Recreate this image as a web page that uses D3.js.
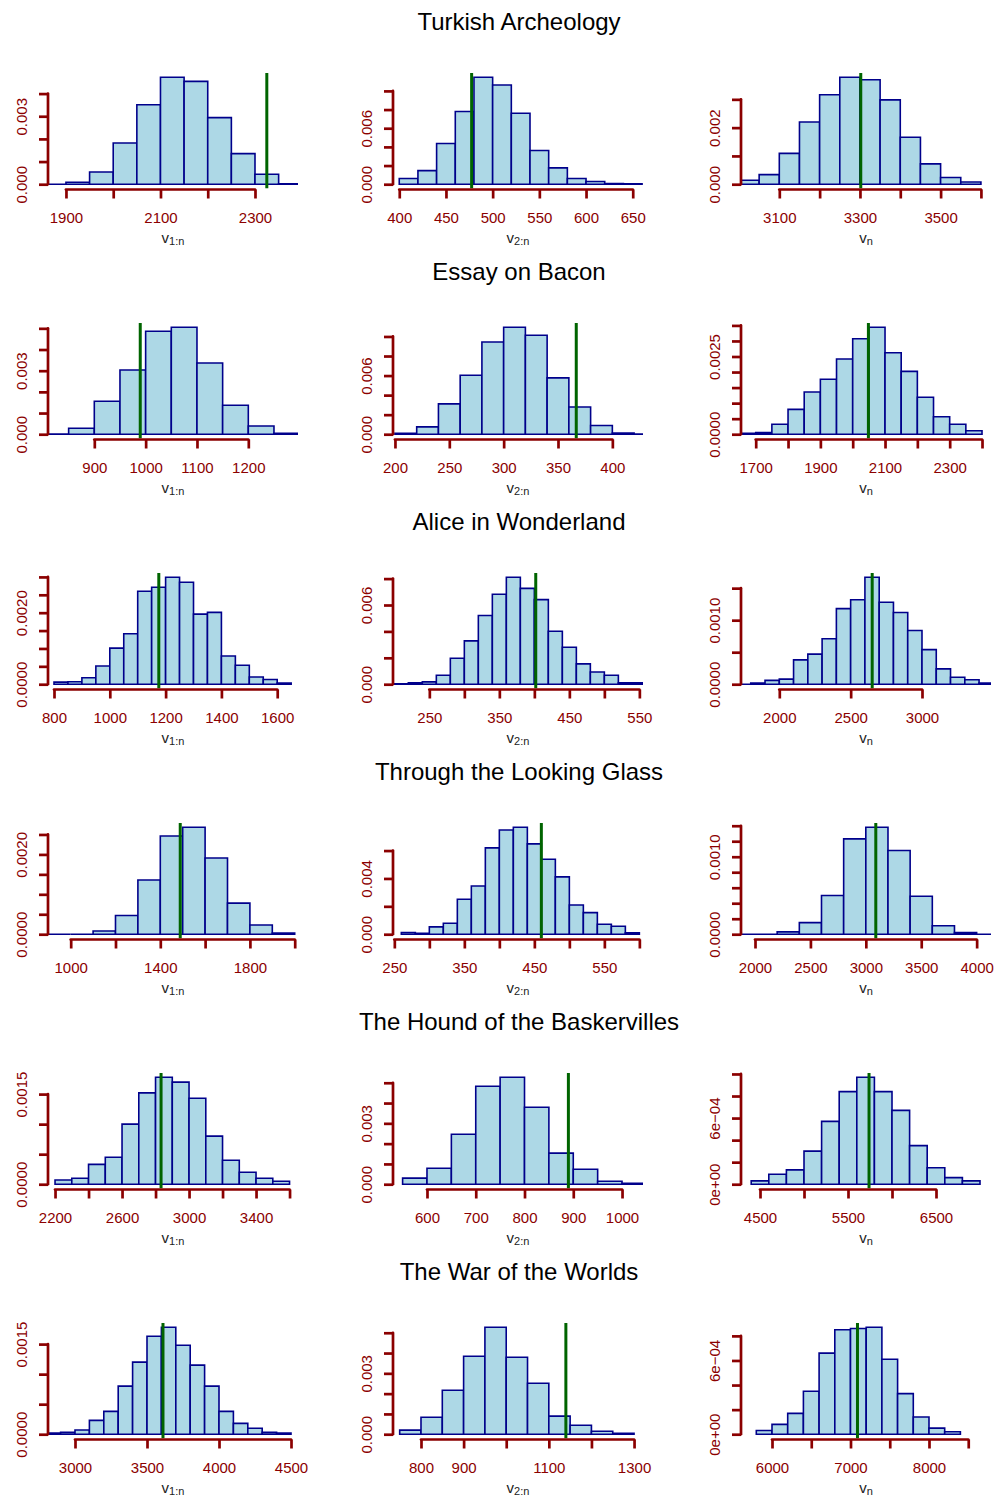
<!DOCTYPE html>
<html>
<head>
<meta charset="utf-8">
<script src="https://cdn.jsdelivr.net/npm/d3@7"></script>
<style>
  body { margin: 0; background: #fff; }
  svg { display: block; }
  text { font-family: "Liberation Sans", Arial, Helvetica, sans-serif; }
</style>
</head>
<body>
<svg id="chart" width="998" height="1497"></svg>
<script>
// Simulated distributions of the statistics v(1:n), v(2:n) and v(n) for six texts,
// shown as density histograms with the observed value marked by a vertical line.
const titles = [
  "Turkish Archeology", "Essay on Bacon", "Alice in Wonderland",
  "Through the Looking Glass", "The Hound of the Baskervilles", "The War of the Worlds"
];
const xlabSubs = ["1:n", "2:n", "n"];

// Histogram bins: first break and bin width for each panel (row by row)
const binStart = [1850, 400, 3000, 800, 200, 1650, 800, 200, 1700, 900, 260, 1800,
                  2200, 550, 4400, 2800, 750, 5800];
const binWidth = [50, 20, 50, 50, 20, 50, 50, 20, 100, 100, 20, 200,
                  100, 50, 200, 100, 50, 200];

// Density of each bin
const densities = [
  [0, 0.00009, 0.00054, 0.00182, 0.00351, 0.00472, 0.00454, 0.00294, 0.00135, 0.00044, 0.00002],
  [0.00061, 0.00146, 0.00436, 0.00779, 0.01146, 0.01064, 0.00761, 0.00361, 0.00175, 0.00061, 0.00029, 0.00007, 0.00005],
  [0.00014, 0.00034, 0.00109, 0.0022, 0.00316, 0.00378, 0.00369, 0.00298, 0.00166, 0.00072, 0.00024, 0.00008],
  [0.00001, 0.00028, 0.00156, 0.00303, 0.00486, 0.00505, 0.00336, 0.00137, 0.00039, 0.00004],
  [0.0001, 0.00075, 0.0031, 0.00603, 0.00944, 0.01094, 0.01012, 0.00576, 0.00279, 0.00089, 0.00012, 0.00002],
  [0.00003, 0.00005, 0.00032, 0.0008, 0.00136, 0.00177, 0.00242, 0.00307, 0.00344, 0.00262, 0.00202, 0.00119, 0.00056, 0.00032, 0.00011],
  [0.00006, 0.00007, 0.00018, 0.00051, 0.00101, 0.00141, 0.0026, 0.00271, 0.00299, 0.00285, 0.00196, 0.00201, 0.00079, 0.00053, 0.0002, 0.00013, 0.00003],
  [0.00003, 0.0001, 0.00018, 0.00068, 0.00197, 0.00328, 0.0052, 0.00681, 0.0081, 0.00726, 0.00641, 0.00401, 0.0028, 0.00154, 0.00093, 0.00068, 0.0001, 0.0001],
  [0, 0.00002, 0.00006, 0.00008, 0.00038, 0.00047, 0.00071, 0.00118, 0.00132, 0.00167, 0.00128, 0.00112, 0.00084, 0.00054, 0.00024, 0.00011, 0.00007, 0.00002],
  [0, 0, 0.00008, 0.00047, 0.00136, 0.00246, 0.00268, 0.00191, 0.00078, 0.00023, 0.00003],
  [0.00012, 0.00007, 0.00053, 0.00079, 0.00251, 0.00346, 0.00619, 0.00748, 0.00767, 0.00648, 0.00538, 0.00411, 0.0021, 0.00155, 0.00072, 0.00057, 0.0001],
  [0, 0, 0.00003, 0.00015, 0.0005, 0.00123, 0.00138, 0.00108, 0.00049, 0.00011, 0.00002, 0],
  [0.00007, 0.0001, 0.00033, 0.00045, 0.001, 0.00152, 0.00178, 0.0017, 0.00143, 0.0008, 0.0004, 0.0002, 0.0001, 0.00005],
  [0.0003, 0.00079, 0.00246, 0.00483, 0.00527, 0.00379, 0.00153, 0.00074, 0.00015, 0.00005],
  [0.00003, 0.00009, 0.00013, 0.0003, 0.00057, 0.00084, 0.00097, 0.00084, 0.00067, 0.00035, 0.00015, 0.00006, 0.00003],
  [0.00002, 0.00003, 0.00007, 0.00023, 0.00038, 0.0008, 0.0012, 0.00163, 0.00178, 0.00148, 0.00115, 0.0008, 0.00038, 0.00018, 0.0001, 0.00003, 0.00002],
  [0.0002, 0.00084, 0.00217, 0.00384, 0.00527, 0.00379, 0.00251, 0.00089, 0.00044, 0.00015, 0.00005],
  [0.00003, 0.00008, 0.00017, 0.00035, 0.00066, 0.00085, 0.00086, 0.00087, 0.00061, 0.00033, 0.00014, 0.00005, 0.00002]
];

// Observed value of the statistic in each text
const observed = [2325, 477.5, 3302, 989.5, 366.8, 2048.6, 1175.6, 402, 2651, 1489, 460, 3090,
                  2833, 890, 5739, 3611, 1140, 7089];

// Horizontal extent of each plotting window
const xLimits = [
  [1862, 2391], [393.3, 661], [3005, 3625],
  [809.8, 1296.8], [198.2, 428.2], [1654.5, 2427.8],
  [778.5, 1674.5], [198.1, 555.2], [1731.6, 3483.6],
  [898.7, 2014.7], [248.1, 605.2], [1873.6, 4129.6],
  [2158, 3650.5], [530.3, 1043], [4284, 7125],
  [2812.5, 4548.6], [734.3, 1321], [5605, 8790]
];

// x axis ticks and the ticks that carry a label
const xTicks = [
  [1900, 2000, 2100, 2200, 2300], [400, 450, 500, 550, 600, 650], [3100, 3200, 3300, 3400, 3500, 3600],
  [900, 1000, 1100, 1200], [200, 250, 300, 350, 400], [1700, 1800, 1900, 2000, 2100, 2200, 2300, 2400],
  [800, 1000, 1200, 1400, 1600], [250, 300, 350, 400, 450, 500, 550], [2000, 2500, 3000],
  [1000, 1200, 1400, 1600, 1800, 2000], [250, 300, 350, 400, 450, 500, 550, 600], [2000, 2500, 3000, 3500, 4000],
  [2200, 2400, 2600, 2800, 3000, 3200, 3400, 3600], [600, 700, 800, 900, 1000], [4500, 5000, 5500, 6000, 6500],
  [3000, 3500, 4000, 4500], [800, 900, 1000, 1100, 1200, 1300], [6000, 6500, 7000, 7500, 8000, 8500]
];
const xTickLabels = [
  [1900, 2100, 2300], [400, 450, 500, 550, 600, 650], [3100, 3300, 3500],
  [900, 1000, 1100, 1200], [200, 250, 300, 350, 400], [1700, 1900, 2100, 2300],
  [800, 1000, 1200, 1400, 1600], [250, 350, 450, 550], [2000, 2500, 3000],
  [1000, 1400, 1800], [250, 350, 450, 550], [2000, 2500, 3000, 3500, 4000],
  [2200, 2600, 3000, 3400], [600, 700, 800, 900, 1000], [4500, 5500, 6500],
  [3000, 3500, 4000, 4500], [800, 900, 1100, 1300], [6000, 7000, 8000]
];

// y axis tick spacing and the labelled ticks
const yTickStep = [0.001, 0.002, 0.001, 0.001, 0.002, 0.0005, 0.0005, 0.002, 0.0005,
                   0.0005, 0.002, 0.0002, 0.0005, 0.001, 0.0002, 0.0005, 0.001, 0.0002];
const yTickLabels = [
  [[0, "0.000"], [0.003, "0.003"]], [[0, "0.000"], [0.006, "0.006"]], [[0, "0.000"], [0.002, "0.002"]],
  [[0, "0.000"], [0.003, "0.003"]], [[0, "0.000"], [0.006, "0.006"]], [[0, "0.0000"], [0.0025, "0.0025"]],
  [[0, "0.0000"], [0.002, "0.0020"]], [[0, "0.000"], [0.006, "0.006"]], [[0, "0.0000"], [0.001, "0.0010"]],
  [[0, "0.0000"], [0.002, "0.0020"]], [[0, "0.000"], [0.004, "0.004"]], [[0, "0.0000"], [0.001, "0.0010"]],
  [[0, "0.0000"], [0.0015, "0.0015"]], [[0, "0.000"], [0.003, "0.003"]], [[0, "0e+00"], [0.0006, "6e\u221204"]],
  [[0, "0.0000"], [0.0015, "0.0015"]], [[0, "0.000"], [0.003, "0.003"]], [[0, "0e+00"], [0.0006, "6e\u221204"]]
];

// ---- layout and style ----
const colLeft = [48, 393, 741];
const panelW = 250, rowH = 250, regionTop = 73, regionBottom = 188.5;
const axisRed = "#8b0000", barStroke = "#00008b", barFill = "#add8e6", markGreen = "#006400";

const svg = d3.select("#chart");

titles.forEach((t, r) => {
  svg.append("text")
    .attr("x", 519).attr("y", r * rowH + 30)
    .attr("text-anchor", "middle")
    .attr("font-size", 24).attr("fill", "#000")
    .text(t);
});

densities.forEach((dens, i) => {
  const r = Math.floor(i / 3), c = i % 3;
  const left = colLeft[c], top = r * rowH;
  const ymax = d3.max(dens);

  const x = d3.scaleLinear().domain(xLimits[i]).range([left, left + panelW]);
  const y = d3.scaleLinear().domain([-0.04 * ymax, 1.04 * ymax])
    .range([top + regionBottom, top + regionTop]);

  const clipId = "region" + i;
  svg.append("clipPath").attr("id", clipId).append("rect")
    .attr("x", left).attr("y", top + regionTop)
    .attr("width", panelW).attr("height", regionBottom - regionTop);

  const bins = dens.map((d, k) => ({
    x0: binStart[i] + k * binWidth[i],
    x1: binStart[i] + (k + 1) * binWidth[i],
    d
  }));

  const plot = svg.append("g").attr("clip-path", `url(#${clipId})`);
  plot.selectAll("path.bar").data(bins).join("path")
    .attr("class", "bar")
    .attr("d", b => `M${x(b.x0)},${y(0)}V${y(b.d)}H${x(b.x1)}V${y(0)}Z`)
    .attr("fill", barFill)
    .attr("stroke", barStroke)
    .attr("stroke-width", 1.6);

  plot.append("line")
    .attr("x1", x(observed[i])).attr("x2", x(observed[i]))
    .attr("y1", top + regionTop).attr("y2", top + regionBottom)
    .attr("stroke", markGreen).attr("stroke-width", 3);

  // bottom axis
  const xt = xTicks[i], xl = new Set(xTickLabels[i]);
  const gx = svg.append("g")
    .attr("transform", `translate(0,${top + regionBottom + 1})`)
    .call(d3.axisBottom(x).tickValues(xt).tickSize(9).tickPadding(14)
      .tickFormat(v => xl.has(v) ? String(v) : ""));
  gx.select(".domain").remove();
  gx.append("line")
    .attr("x1", x(xt[0])).attr("x2", x(xt[xt.length - 1]))
    .attr("stroke", axisRed).attr("stroke-width", 2.7).attr("stroke-linecap", "round");
  gx.selectAll(".tick line").attr("stroke", axisRed).attr("stroke-width", 2.7);
  gx.selectAll(".tick text")
    .attr("fill", axisRed).attr("font-size", 15)
    .attr("font-family", "'Liberation Sans', Arial, sans-serif");

  // left axis
  const step = yTickStep[i];
  const yt = d3.range(0, Math.floor(1.04 * ymax / step + 1e-6) + 1).map(k => k * step);
  const yl = new Map(yTickLabels[i].map(([v, s]) => [Math.round(v / step), s]));
  const gy = svg.append("g")
    .attr("transform", `translate(${left},0)`)
    .call(d3.axisLeft(y).tickValues(yt).tickSize(9)
      .tickFormat(v => yl.get(Math.round(v / step)) || ""));
  gy.select(".domain").remove();
  gy.append("line")
    .attr("y1", y(0)).attr("y2", y(yt[yt.length - 1]))
    .attr("stroke", axisRed).attr("stroke-width", 2.7).attr("stroke-linecap", "round");
  gy.selectAll(".tick line").attr("stroke", axisRed).attr("stroke-width", 2.7);
  gy.selectAll(".tick text")
    .attr("fill", axisRed).attr("font-size", 15)
    .attr("font-family", "'Liberation Sans', Arial, sans-serif")
    .attr("x", null).attr("dy", null)
    .attr("text-anchor", "middle")
    .attr("transform", "translate(-21.5,0) rotate(-90)");

  // axis title: v with subscript
  const lab = svg.append("text")
    .attr("x", left + panelW / 2).attr("y", top + 242.5)
    .attr("text-anchor", "middle").attr("fill", "#222").attr("font-size", 15);
  lab.append("tspan").text("v");
  lab.append("tspan").attr("font-size", 11).attr("dy", 2.5).text(xlabSubs[c]);
});
</script>
</body>
</html>
